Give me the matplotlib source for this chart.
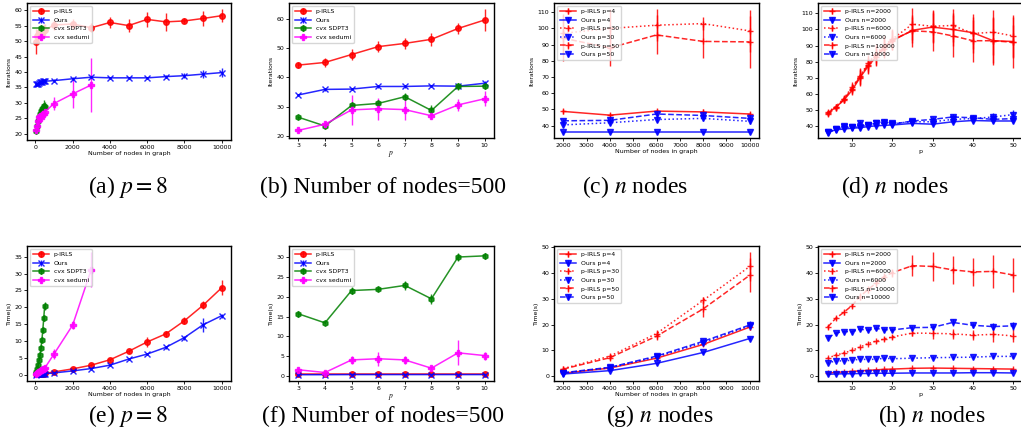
import numpy as np
import matplotlib
matplotlib.use('Agg')
import matplotlib.pyplot as plt

plt.rcParams['font.family'] = ['DejaVu Sans']
plt.rcParams['mathtext.fontset'] = 'stix'

# ---- (a)/(e): p = 8, vs number of nodes ----
nodes = [50, 100, 150, 200, 250, 300, 350, 400, 450, 500,
         1000, 2000, 3000, 4000, 5000, 6000, 7000, 8000, 9000, 10000]
nodes_sdpt3 = nodes[:10]
nodes_sedumi = nodes[:13]

irls_it_a = [49.8, 51.5, 52.0, 52.5, 52.8, 53.0, 53.0, 53.2, 53.5, 53.5,
             55.2, 55.5, 54.3, 56.0, 55.0, 57.0, 56.2, 56.5, 57.3, 58.2]
irls_it_a_err = [4.0, 2.0, 2.0, 2.0, 2.0, 2.0, 2.0, 2.0, 2.0, 2.0,
                 1.5, 1.5, 1.5, 1.8, 2.0, 2.5, 3.0, 0.8, 2.5, 2.0]
ours_it_a = [36.0, 36.0, 36.2, 36.5, 36.6, 36.8, 36.9, 37.0, 37.0, 37.0,
             37.2, 37.8, 38.3, 38.1, 38.1, 38.1, 38.5, 38.8, 39.3, 39.8]
ours_it_a_err = [0.5, 0.5, 0.5, 0.5, 0.5, 0.5, 0.5, 0.5, 0.5, 0.5,
                 0.5, 0.5, 0.7, 0.3, 0.3, 0.3, 0.5, 0.8, 1.3, 1.5]
sdpt3_it_a = [20.8, 22.5, 24.0, 25.5, 26.5, 27.5, 28.0, 28.5, 29.0, 28.8]
sdpt3_it_a_err = [0.3, 0.8, 1.0, 1.0, 1.2, 1.5, 1.5, 1.5, 2.0, 1.5]
sedumi_it_a = [21.3, 22.5, 24.0, 25.5, 25.8, 25.0, 26.0, 26.3, 26.5, 27.0, 29.8, 32.9, 35.8]
sedumi_it_a_err = [0.8, 1.0, 1.0, 1.0, 1.0, 1.0, 1.0, 1.0, 1.0, 1.0, 2.2, 4.5, 8.8]

irls_t_a = [0.05, 0.08, 0.1, 0.13, 0.16, 0.2, 0.24, 0.28, 0.32, 0.36,
            0.8, 1.7, 2.8, 4.4, 6.9, 9.7, 12.1, 16.0, 20.6, 25.8]
irls_t_a_err = [0.05, 0.05, 0.05, 0.05, 0.05, 0.05, 0.05, 0.05, 0.05, 0.05,
                0.3, 0.2, 0.3, 0.3, 0.4, 1.5, 1.0, 1.0, 1.2, 2.2]
ours_t_a = [0.03, 0.05, 0.07, 0.09, 0.11, 0.13, 0.15, 0.17, 0.19, 0.21,
            0.5, 1.1, 1.8, 2.8, 4.6, 6.1, 8.1, 11.0, 14.8, 17.5]
ours_t_a_err = [0.05, 0.05, 0.05, 0.05, 0.05, 0.05, 0.05, 0.05, 0.05, 0.05,
                0.2, 0.2, 0.2, 0.3, 0.3, 0.3, 0.4, 0.6, 2.0, 0.6]
sdpt3_t_a = [0.7, 1.6, 3.0, 4.4, 5.8, 8.0, 10.2, 13.2, 16.7, 20.4]
sdpt3_t_a_err = [0.1, 0.2, 0.3, 0.3, 0.4, 0.4, 0.5, 0.6, 0.8, 1.2]
sedumi_t_a = [0.3, 0.5, 0.7, 0.9, 1.1, 1.3, 1.4, 1.6, 1.8, 1.9, 6.1, 14.7, 31.2]
sedumi_t_a_err = [0.1, 0.1, 0.1, 0.1, 0.2, 0.2, 0.2, 0.2, 0.2, 0.2, 1.5, 1.2, 5.2]

# ---- (b)/(f): 500 nodes, vs p ----
p_b = [3, 4, 5, 6, 7, 8, 9, 10]
irls_it_b = [44.2, 45.1, 47.8, 50.5, 51.6, 53.0, 56.7, 59.6]
irls_it_b_err = [1.0, 1.5, 2.0, 1.8, 1.8, 2.2, 2.0, 3.7]
ours_it_b = [34.0, 35.9, 36.0, 36.9, 36.9, 37.1, 37.0, 38.0]
ours_it_b_err = [0.3, 0.4, 0.3, 0.5, 0.4, 0.4, 0.5, 0.8]
sdpt3_it_b = [26.4, 23.4, 30.4, 31.1, 33.4, 28.7, 36.9, 37.0]
sdpt3_it_b_err = [0.5, 0.5, 1.0, 1.0, 1.2, 2.0, 1.2, 0.8]
sedumi_it_b = [21.9, 24.0, 28.9, 29.3, 29.0, 26.9, 30.6, 32.7]
sedumi_it_b_err = [0.5, 1.0, 5.0, 3.7, 3.5, 1.0, 2.0, 2.5]

irls_t_b = [0.45, 0.45, 0.45, 0.45, 0.45, 0.45, 0.45, 0.45]
irls_t_b_err = [0.1, 0.1, 0.1, 0.1, 0.1, 0.1, 0.1, 0.1]
ours_t_b = [0.25, 0.25, 0.28, 0.28, 0.28, 0.28, 0.28, 0.28]
ours_t_b_err = [0.05, 0.05, 0.05, 0.05, 0.05, 0.05, 0.05, 0.05]
sdpt3_t_b = [15.7, 13.4, 21.6, 21.9, 22.9, 19.5, 30.1, 30.4]
sdpt3_t_b_err = [0.8, 0.3, 1.0, 0.5, 1.2, 1.2, 1.0, 0.8]
sedumi_t_b = [1.5, 0.8, 4.0, 4.3, 4.0, 1.9, 5.8, 5.1]
sedumi_t_b_err = [0.5, 0.3, 1.0, 1.8, 1.0, 0.5, 3.2, 1.0]

# ---- (c)/(g): vs n for p = 4, 30, 50 ----
n_c = [2000, 4000, 6000, 8000, 10000]
p_vals = [4, 30, 50]
irls_it_c = [[48.8, 46.5, 49.0, 48.5, 47.2],
             [97.0, 100.0, 102.0, 103.0, 98.5],
             [94.0, 88.0, 96.0, 92.0, 91.7]]
irls_it_c_err = [[1.5, 1.5, 1.5, 1.5, 1.2],
                 [12.0, 12.0, 10.0, 4.0, 13.0],
                 [14.0, 11.0, 12.0, 10.0, 16.0]]
ours_it_c = [[36.0, 36.0, 36.0, 36.0, 36.0],
             [40.5, 41.8, 43.8, 44.5, 42.7],
             [43.0, 43.3, 47.2, 46.3, 44.5]]
ours_it_c_err = [[0.3, 0.3, 0.3, 0.3, 0.3],
                 [1.0, 1.2, 1.5, 1.5, 1.5],
                 [1.0, 1.2, 2.5, 2.0, 1.8]]
irls_t_c = [[1.2, 3.2, 7.0, 12.3, 19.0],
            [3.0, 7.8, 16.5, 29.3, 42.4],
            [2.8, 7.2, 15.5, 26.0, 39.0]]
irls_t_c_err = [[0.2, 0.3, 0.5, 0.6, 1.0],
                [0.3, 0.8, 1.5, 1.5, 5.5],
                [0.3, 0.8, 1.5, 3.0, 6.5]]
ours_t_c = [[0.9, 2.2, 5.0, 9.2, 14.6],
            [1.3, 3.3, 7.5, 13.0, 19.5],
            [1.4, 3.5, 7.8, 13.5, 19.8]]
ours_t_c_err = [[0.1, 0.2, 0.3, 0.4, 0.6],
                [0.2, 0.3, 0.5, 0.8, 1.5],
                [0.2, 0.3, 0.5, 0.8, 1.5]]

# ---- (d)/(h): vs p for n = 2000, 6000, 10000 ----
p_d = [4, 6, 8, 10, 12, 14, 16, 18, 20, 25, 30, 35, 40, 45, 50]
n_vals = [2000, 6000, 10000]
irls_it_d = [[48.0, 51.5, 56.0, 62.0, 70.0, 77.0, 83.0, 88.0, 93.0, 99.5, 101.5, 100.0, 98.0, 93.0, 92.5],
             [48.5, 52.0, 57.0, 64.0, 71.0, 79.0, 85.0, 90.0, 94.0, 103.3, 102.0, 102.5, 97.5, 98.3, 96.0],
             [47.5, 51.0, 56.5, 63.0, 70.5, 78.0, 84.0, 89.0, 93.5, 99.2, 98.5, 96.0, 93.0, 93.0, 92.0]]
irls_it_d_err = [[1.5, 1.5, 2.0, 3.0, 5.0, 5.0, 6.0, 6.0, 6.0, 8.0, 10.0, 10.0, 10.0, 14.0, 10.0],
                 [1.5, 1.5, 2.0, 3.0, 5.0, 5.0, 6.0, 6.0, 6.0, 10.0, 10.0, 10.0, 12.0, 14.0, 13.0],
                 [1.5, 1.5, 2.0, 3.0, 5.0, 5.0, 6.0, 6.0, 6.0, 10.0, 12.0, 13.0, 13.0, 15.0, 16.0]]
ours_it_d = [[36.0, 37.5, 38.0, 38.5, 38.8, 39.5, 40.0, 40.3, 40.5, 41.5, 41.0, 42.5, 43.3, 43.0, 43.0],
             [36.0, 37.8, 39.0, 39.0, 39.5, 40.5, 42.0, 42.5, 41.5, 42.5, 42.5, 44.0, 44.5, 45.5, 47.0],
             [35.5, 38.0, 40.0, 39.0, 42.0, 40.8, 41.5, 41.5, 41.0, 43.0, 44.0, 45.5, 45.0, 44.0, 44.5]]
ours_it_d_err = [[0.5, 0.8, 0.8, 0.8, 1.0, 1.0, 1.0, 1.0, 1.0, 1.2, 1.2, 1.5, 1.5, 1.5, 1.5],
                 [0.5, 0.8, 1.0, 1.0, 1.0, 1.2, 1.5, 1.5, 1.5, 1.5, 1.5, 2.0, 2.0, 2.5, 3.0],
                 [0.5, 0.8, 1.5, 1.0, 1.5, 1.2, 1.5, 2.5, 1.5, 1.5, 1.5, 2.0, 2.0, 2.0, 2.0]]
irls_t_d = [[1.3, 1.5, 1.7, 1.9, 2.1, 2.3, 2.5, 2.7, 2.8, 3.1, 3.2, 3.1, 3.0, 2.9, 2.8],
            [7.0, 8.2, 9.0, 10.0, 11.3, 12.6, 13.6, 14.4, 15.2, 16.7, 16.6, 16.4, 15.9, 16.2, 15.6],
            [19.0, 22.4, 24.7, 27.3, 30.8, 33.5, 36.0, 38.5, 40.0, 42.7, 42.4, 41.1, 40.3, 40.5, 39.1]]
irls_t_d_err = [[0.1, 0.1, 0.1, 0.1, 0.1, 0.1, 0.2, 0.2, 0.2, 0.2, 0.2, 0.2, 0.2, 0.2, 0.2],
                [0.3, 0.3, 0.4, 0.4, 0.5, 0.6, 0.6, 0.7, 0.8, 1.2, 2.0, 2.0, 2.0, 3.0, 2.5],
                [0.8, 0.8, 1.0, 1.0, 1.5, 1.5, 1.5, 1.5, 1.5, 4.0, 5.5, 5.5, 5.5, 6.5, 6.5]]
ours_t_d = [[0.8, 0.9, 1.0, 1.0, 1.1, 1.1, 1.2, 1.2, 1.2, 1.3, 1.3, 1.3, 1.4, 1.4, 1.3],
            [5.2, 5.9, 6.0, 6.2, 6.6, 6.5, 6.6, 7.0, 6.8, 7.0, 7.2, 7.3, 7.4, 7.7, 7.7],
            [14.8, 16.7, 17.3, 17.2, 18.2, 17.8, 18.5, 18.0, 17.9, 18.8, 18.9, 20.8, 19.7, 19.2, 19.5]]
ours_t_d_err = [[0.1, 0.1, 0.1, 0.1, 0.1, 0.1, 0.1, 0.1, 0.1, 0.1, 0.1, 0.1, 0.1, 0.1, 0.1],
                [0.4, 0.4, 0.4, 0.4, 0.4, 0.4, 0.5, 0.5, 0.5, 0.5, 0.5, 0.5, 0.5, 0.5, 0.5],
                [0.6, 0.6, 0.7, 0.7, 0.8, 0.8, 0.8, 0.8, 0.8, 0.8, 0.8, 1.2, 1.0, 1.2, 1.5]]

styles = ['-', ':', '--']
FS = 4.5
LFS = 4.4
W, H = 1021.0, 436.0


def make_ax(fig, l, r, t, b):
    ax = fig.add_axes([l / W, 1 - b / H, (r - l) / W, (b - t) / H])
    ax.tick_params(labelsize=FS, length=2, width=0.6, pad=1.5)
    for s in ax.spines.values():
        s.set_linewidth(1.0)
    return ax


def eb(ax, x, y, e, c, m, ls='-', label=None, ms=4.0):
    ax.errorbar(x, y, yerr=e, fmt=m, linestyle=ls, color=c, ms=ms, lw=1.1,
                elinewidth=1.0, mew=1.0, label=label, alpha=0.85)


def four(ax, x1, d1, x2, d2, x3, d3, x4, d4):
    eb(ax, x1, d1[0], d1[1], 'red', 'o', label='p-IRLS')
    eb(ax, x2, d2[0], d2[1], 'blue', 'x', label='Ours')
    eb(ax, x3, d3[0], d3[1], 'green', 'h', label='cvx SDPT3')
    eb(ax, x4, d4[0], d4[1], 'magenta', 'P', label='cvx sedumi')
    ax.legend(loc='upper left', fontsize=LFS, handlelength=2.6,
              borderpad=0.45, labelspacing=0.55, handletextpad=0.8)


def six(ax, x, irls, irls_e, ours, ours_e, labs):
    for i in range(3):
        eb(ax, x, irls[i], irls_e[i], 'red', '+', styles[i], 'p-IRLS ' + labs[i], ms=4.2)
        eb(ax, x, ours[i], ours_e[i], 'blue', 'v', styles[i], 'Ours ' + labs[i], ms=4.0)
    ax.legend(loc='upper left', fontsize=LFS, handlelength=2.6,
              borderpad=0.45, labelspacing=0.55, handletextpad=0.8)


fig = plt.figure(figsize=(10.21, 4.36), dpi=100)

top = (3, 140)
bot = (246, 381)
cols = [(27, 231), (289, 494), (554, 759), (818, 1023)]

# (a)
ax = make_ax(fig, cols[0][0], cols[0][1], top[0], top[1])
four(ax, nodes, (irls_it_a, irls_it_a_err), nodes, (ours_it_a, ours_it_a_err),
     nodes_sdpt3, (sdpt3_it_a, sdpt3_it_a_err), nodes_sedumi, (sedumi_it_a, sedumi_it_a_err))
ax.set_ylim(18.0, 62.3)
ax.set_xlabel('Number of nodes in graph', fontsize=FS, labelpad=1)
ax.set_ylabel('Iterations', fontsize=FS, labelpad=2)

# (b)
ax = make_ax(fig, cols[1][0], cols[1][1], top[0], top[1] - 2)
four(ax, p_b, (irls_it_b, irls_it_b_err), p_b, (ours_it_b, ours_it_b_err),
     p_b, (sdpt3_it_b, sdpt3_it_b_err), p_b, (sedumi_it_b, sedumi_it_b_err))
ax.set_ylim(19.3, 65.4)
ax.set_xlabel('$p$', fontsize=FS + 1, labelpad=1)
ax.set_ylabel('Iterations', fontsize=FS, labelpad=2)

# (c)
ax = make_ax(fig, cols[2][0], cols[2][1], top[0], top[1] - 2)
six(ax, n_c, irls_it_c, irls_it_c_err, ours_it_c, ours_it_c_err,
    ['p=%d' % p for p in p_vals])
ax.set_ylim(32.4, 115.7)
ax.set_xlabel('Number of nodes in graph', fontsize=FS, labelpad=1)
ax.set_ylabel('Iterations', fontsize=FS, labelpad=2)

# (d)
ax = make_ax(fig, cols[3][0], cols[3][1], top[0], top[1] - 2)
six(ax, p_d, irls_it_d, irls_it_d_err, ours_it_d, ours_it_d_err,
    ['n=%d' % n for n in n_vals])
ax.set_ylim(32.4, 116.5)
ax.set_xlim(1.6, 52.4)
ax.set_xlabel('p', fontsize=FS, labelpad=1)
ax.set_ylabel('Iterations', fontsize=FS, labelpad=2)

# (e)
ax = make_ax(fig, cols[0][0], cols[0][1], bot[0], bot[1])
four(ax, nodes, (irls_t_a, irls_t_a_err), nodes, (ours_t_a, ours_t_a_err),
     nodes_sdpt3, (sdpt3_t_a, sdpt3_t_a_err), nodes_sedumi, (sedumi_t_a, sedumi_t_a_err))
ax.set_ylim(-1.9, 38.2)
ax.set_xlabel('Number of nodes in graph', fontsize=FS, labelpad=1)
ax.set_ylabel('Time(s)', fontsize=FS, labelpad=2)

# (f)
ax = make_ax(fig, cols[1][0], cols[1][1], bot[0], bot[1])
four(ax, p_b, (irls_t_b, irls_t_b_err), p_b, (ours_t_b, ours_t_b_err),
     p_b, (sdpt3_t_b, sdpt3_t_b_err), p_b, (sedumi_t_b, sedumi_t_b_err))
ax.set_ylim(-1.35, 32.9)
ax.set_xlabel('$p$', fontsize=FS + 1, labelpad=1)
ax.set_ylabel('Time(s)', fontsize=FS, labelpad=2)

# (g)
ax = make_ax(fig, cols[2][0], cols[2][1], bot[0], bot[1])
six(ax, n_c, irls_t_c, irls_t_c_err, ours_t_c, ours_t_c_err,
    ['p=%d' % p for p in p_vals])
ax.set_ylim(-1.8, 50.3)
ax.set_xlabel('Number of nodes in graph', fontsize=FS, labelpad=1)
ax.set_ylabel('Time(s)', fontsize=FS, labelpad=2)

# (h)
ax = make_ax(fig, cols[3][0], cols[3][1], bot[0], bot[1])
six(ax, p_d, irls_t_d, irls_t_d_err, ours_t_d, ours_t_d_err,
    ['n=%d' % n for n in n_vals])
ax.set_ylim(-1.8, 50.3)
ax.set_xlim(1.6, 52.4)
ax.set_xlabel('p', fontsize=FS, labelpad=1)
ax.set_ylabel('Time(s)', fontsize=FS, labelpad=2)

# captions
cap = dict(fontsize=17, family='Liberation Serif', ha='center', va='center')
caps_top = [(128, '(a) $p=8$'), (383, '(b) Number of nodes=500'),
            (635, '(c) $n$ nodes'), (895, '(d) $n$ nodes')]
caps_bot = [(128, '(e) $p=8$'), (383, '(f) Number of nodes=500'),
            (660, '(g) $n$ nodes'), (932, '(h) $n$ nodes')]
for x, s in caps_top:
    fig.text(x / W, 1 - 187 / H, s, **cap)
for x, s in caps_bot:
    fig.text(x / W, 1 - 416 / H, s, **cap)

fig.savefig('out.png', dpi=100)
